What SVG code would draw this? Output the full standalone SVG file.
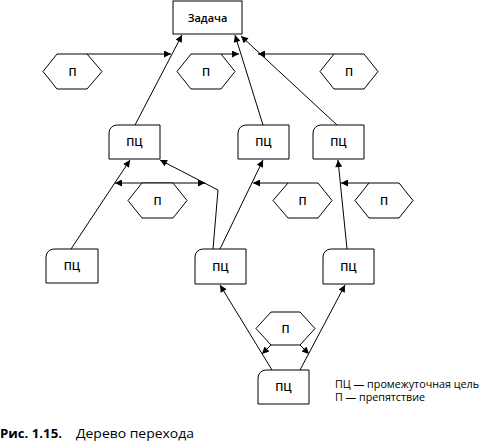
<svg xmlns="http://www.w3.org/2000/svg" width="480" height="444" viewBox="0 0 480 444">
<style>
.box{fill:#fff;stroke:#000;stroke-width:1}
.hex{fill:#fff;stroke:#000;stroke-width:1}
.lbl{font-family:"Open Sans","Noto Sans",sans-serif;font-size:11px;font-weight:600;fill:#000;text-anchor:middle}
.leg{font-family:"Open Sans","Noto Sans",sans-serif;font-size:10.5px;font-weight:500;fill:#000}
.cap{font-family:"Open Sans","Noto Sans",sans-serif;font-size:12.5px;fill:#000}
.c{fill:none;stroke:#000;stroke-width:1;marker-end:url(#ah)}
</style>
<defs>
<marker id="ah" viewBox="0 0 10 10" refX="10" refY="5" markerUnits="userSpaceOnUse" markerWidth="9" markerHeight="7" orient="auto-start-reverse">
<path d="M0,0 L10,5 L0,10 Z" fill="#000"/>
</marker>
</defs>
<rect width="480" height="444" fill="#fff"/>
<g id="connectors">
<path class="c" d="M135,125 L182,35"/>
<path class="c" d="M263,125 L235,35"/>
<path class="c" d="M337,125 L241,36"/>
<path class="c" d="M87,54 L171,54"/>
<path class="c" d="M221,54 L239,54"/>
<path class="c" d="M334,54 L258,54"/>
<path class="c" d="M71,249 L130,160"/>
<path class="c" d="M213,249 L218,190 L160,160"/>
<path class="c" d="M220,249 L263,160"/>
<path class="c" d="M347,249 L338,160"/>
<path class="c" d="M115,183 L205,183" style="marker-start:url(#ah)"/>
<path class="c" d="M288,183 L253,183"/>
<path class="c" d="M369,183 L341,183"/>
<path class="c" d="M272,370 L220,285"/>
<path class="c" d="M300,370 L345,285"/>
<path class="c" d="M271,345 L262,354"/>
<path class="c" d="M300,345 L309,354"/>
</g>
<g id="task"><rect class="box" x="173" y="1" width="69" height="33"/><text class="lbl" x="207.5" y="21.5">Задача</text></g>
<g id="pc1"><path class="box" d="M109,159 V133 A8,8 0 0 1 117,125 H160 V159 Z"/><text class="lbl" x="134.5" y="146">ПЦ</text></g>
<g id="pc2"><path class="box" d="M238,159 V133 A8,8 0 0 1 246,125 H289 V159 Z"/><text class="lbl" x="263.5" y="146">ПЦ</text></g>
<g id="pc3"><path class="box" d="M313,159 V133 A8,8 0 0 1 321,125 H364 V159 Z"/><text class="lbl" x="338.5" y="146">ПЦ</text></g>
<g id="pc4"><path class="box" d="M46,283 V257 A8,8 0 0 1 54,249 H98 V283 Z"/><text class="lbl" x="72" y="270">ПЦ</text></g>
<g id="pc5"><path class="box" d="M195,284 V257 A8,8 0 0 1 203,249 H246 V284 Z"/><text class="lbl" x="220.5" y="270.5">ПЦ</text></g>
<g id="pc6"><path class="box" d="M323,284 V257 A8,8 0 0 1 331,249 H374 V284 Z"/><text class="lbl" x="348.5" y="270.5">ПЦ</text></g>
<g id="pc7"><path class="box" d="M258,404 V378 A8,8 0 0 1 266,370 H309 V404 Z"/><text class="lbl" x="283.5" y="391">ПЦ</text></g>
<g id="p1"><polygon class="hex" points="43,71.5 57,54 87,54 102,71.5 87,89 57,89"/><text class="lbl" x="72.5" y="75.5">П</text></g>
<g id="p2"><polygon class="hex" points="177,71.5 191,54 221,54 235,71.5 221,89 191,89"/><text class="lbl" x="206" y="75.5">П</text></g>
<g id="p3"><polygon class="hex" points="320,71.5 334,54 364,54 378,71.5 364,89 334,89"/><text class="lbl" x="349" y="75.5">П</text></g>
<g id="p4"><polygon class="hex" points="128,200.5 142,183 173,183 187,200.5 173,218 142,218"/><text class="lbl" x="157.5" y="204.5">П</text></g>
<g id="p5"><polygon class="hex" points="273,200.5 288,183 318,183 332,200.5 318,218 288,218"/><text class="lbl" x="302.5" y="204.5">П</text></g>
<g id="p6"><polygon class="hex" points="355,200.5 369,183 399,183 413,200.5 399,218 369,218"/><text class="lbl" x="384" y="204.5">П</text></g>
<g id="p7"><polygon class="hex" points="256,328.5 271,312 300,312 315,328.5 300,345 271,345"/><text class="lbl" x="285.5" y="332.5">П</text></g>
<g id="legend">
<text class="leg" x="335" y="387.5" textLength="144" lengthAdjust="spacingAndGlyphs">ПЦ — промежуточная цель</text>
<text class="leg" x="335" y="400.5" textLength="90" lengthAdjust="spacingAndGlyphs">П — препятствие</text>
</g>
<g id="caption">
<text class="cap" x="0" y="437.5" font-weight="bold" textLength="62" lengthAdjust="spacingAndGlyphs">Рис. 1.15.</text>
<text class="cap" x="76" y="437.5" textLength="118" lengthAdjust="spacingAndGlyphs">Дерево перехода</text>
</g>
</svg>
